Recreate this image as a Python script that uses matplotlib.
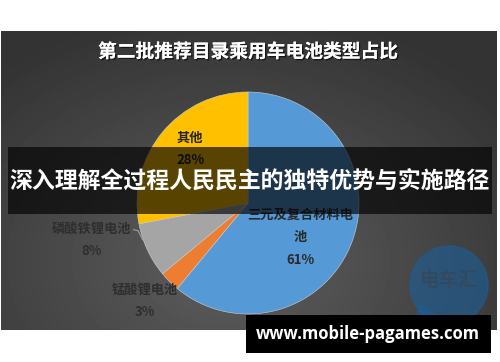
import numpy as np
import matplotlib.pyplot as plt
import matplotlib.patheffects as pe
from matplotlib.patches import Rectangle, Circle, Polygon

plt.rcParams['font.family'] = ['Noto Sans CJK SC', 'DejaVu Sans']

# data
categories = ['三元及复合材料电池', '锰酸锂电池', '磷酸铁锂电池', '其他']
label_text = ['三元及复合材料电\n池', '锰酸锂电池', '磷酸铁锂电池', '其他']
shares = [61, 3, 8, 28]
colors = ['#5599d6', '#ed7d31', '#a5a5a5', '#ffc000']
title = '第二批推荐目录乘用车电池类型占比'
banner = '深入理解全过程人民民主的独特优势与实施路径'
site = 'www.mobile-pagames.com'

W, H = 500, 362
fig = plt.figure(figsize=(W / 100, H / 100), dpi=100)
fig.patch.set_facecolor('white')

# background panel (pixel coordinates)
bg = fig.add_axes([0, 0, 1, 1])
bg.set_xlim(0, W)
bg.set_ylim(H, 0)
bg.axis('off')
yy, xx = np.mgrid[31:330, 1:497]
r = np.sqrt(((xx - 230) / 330.0) ** 2 + ((yy - 260) / 240.0) ** 2)
shade = np.clip(0.37 - 0.16 * r, 0.2, 0.37)
bg.imshow(shade, cmap='gray', vmin=0, vmax=1, extent=(1, 497, 330, 31), aspect='auto')
bg.text(248, 52, title, color='white', fontsize=13.5, fontweight='bold', ha='center', va='center',
        path_effects=[pe.withSimplePatchShadow(offset=(1, -1), shadow_rgbFace='black', alpha=0.6), pe.Normal()])

# logo watermark
bg.add_patch(Polygon([[420, 305], [412, 330], [440, 318]], closed=True, color='#1a5f9a', alpha=0.6))
bg.add_patch(Circle((449, 285), 39, color='#1a5f9a', alpha=0.6))
bg.text(449, 281, '电车汇', color='#34495c', fontsize=14, fontweight='bold', ha='center', va='center', alpha=0.85)

# pie
cx, cy, rad = 248, 203, 111
ax = fig.add_axes([(cx - rad) / W, (H - cy - rad) / H, 2 * rad / W, 2 * rad / H])
wedges, _ = ax.pie(shares, colors=colors, startangle=90, counterclock=False,
                   wedgeprops=dict(edgecolor='#d0d0d0', linewidth=0.4))
ax.set_xlim(-1, 1)
ax.set_ylim(-1, 1)
ax.set_aspect('auto')

lab_pos = [(0.47, -0.31), (-0.93, -0.88), (-1.41, -0.33), (-0.52, 0.49)]
lab_color = ['#2a2a2a', '#2e2e2e', '#2e2e2e', '#262626']
for txt, share, (x, y), c in zip(label_text, shares, lab_pos, lab_color):
    ax.text(x, y, f'{txt}\n{share}%', color=c, fontsize=9.5, fontweight='bold', ha='center', va='center',
            linespacing=1.75, clip_on=False)
ax.plot([-1.03, -0.99, -0.95], [-0.24, -0.25, -0.33], color='#a0a0a0', lw=0.8, clip_on=False)

# overlays
ov = fig.add_axes([0, 0, 1, 1])
ov.set_xlim(0, W)
ov.set_ylim(H, 0)
ov.axis('off')
ov.add_patch(Rectangle((8, 147), 484, 67, color='black', alpha=0.65, lw=0))
ov.text(250, 181, banner, color='white', fontsize=16.5, fontweight='bold', ha='center', va='center')
ov.add_patch(Rectangle((246, 315), 245, 38, color='black', lw=0))
ov.text(368, 334, site, color='white', fontsize=12, fontweight='bold', ha='center', va='center',
        family=['Open Sans', 'DejaVu Sans'])

fig.savefig('out.png', dpi=100)
